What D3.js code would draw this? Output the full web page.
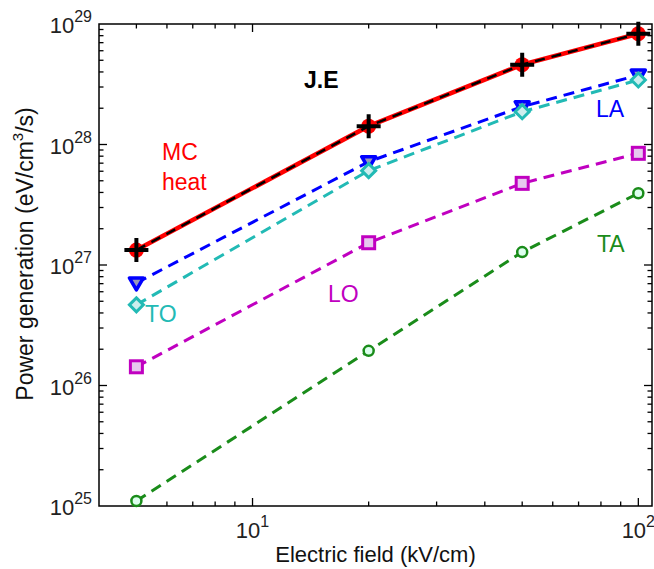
<!DOCTYPE html>
<html>
<head>
<meta charset="utf-8">
<script src="https://cdn.jsdelivr.net/npm/d3@7"></script>
<style>
  body { margin: 0; background: #fff; }
  text { font-family: "Liberation Sans", Arial, sans-serif; }
</style>
</head>
<body>
<div id="chart"></div>
<script>
// electric field values (kV/cm)
const fields = [5, 20, 50, 100];

// power generation (eV/cm^3/s) per channel
const mcHeat = [1.33e27, 1.42e28, 4.6e28, 8.3e28];
const jouleHeat = [1.33e27, 1.42e28, 4.6e28, 8.3e28];
const laPower = [7.1e26, 7.2e27, 2.06e28, 3.77e28];
const toPower = [4.67e26, 6.07e27, 1.87e28, 3.43e28];
const loPower = [1.43e26, 1.53e27, 4.76e27, 8.45e27];
const taPower = [1.1e25, 1.94e26, 1.28e27, 3.94e27];

// tick labels
const xTickExps = [1, 2];
const yTickExps = [25, 26, 27, 28, 29];

const W = 654, H = 569;
const margin = {left: 99, right: 2, top: 24, bottom: 63};

const svg = d3.select('#chart').append('svg')
    .attr('width', W)
    .attr('height', H);

const x = d3.scaleLog()
    .domain([4, 108.5])
    .range([margin.left, W - margin.right]);
const y = d3.scaleLog()
    .domain([1e25, 1e29])
    .range([H - margin.bottom, margin.top]);

const x0 = x.range()[0], x1 = x.range()[1];
const y0 = y.range()[0], y1 = y.range()[1];

// minor/major ticks
const xMinor = [5, 6, 7, 8, 9, 20, 30, 40, 50, 60, 70, 80, 90];
const xMajor = [10, 100];
const yMinor = [];
for (let e = 25; e < 29; e++) {
  for (let m = 2; m <= 9; m++) yMinor.push(m * Math.pow(10, e));
}
const yMajor = yTickExps.map(e => Math.pow(10, e));

const ticks = svg.append('g').attr('stroke', '#000').attr('stroke-width', 1.3);
function xTicks(vals, len) {
  vals.forEach(v => {
    ticks.append('line').attr('x1', x(v)).attr('x2', x(v)).attr('y1', y0).attr('y2', y0 - len);
    ticks.append('line').attr('x1', x(v)).attr('x2', x(v)).attr('y1', y1).attr('y2', y1 + len);
  });
}
function yTicks(vals, len) {
  vals.forEach(v => {
    ticks.append('line').attr('y1', y(v)).attr('y2', y(v)).attr('x1', x0).attr('x2', x0 + len);
    ticks.append('line').attr('y1', y(v)).attr('y2', y(v)).attr('x1', x1).attr('x2', x1 - len);
  });
}
xTicks(xMinor, 4.5);
xTicks(xMajor, 8);
yTicks(yMinor, 4.5);
yTicks(yMajor.slice(1, -1), 8);

// box
svg.append('rect')
    .attr('x', x0).attr('y', y1)
    .attr('width', x1 - x0).attr('height', y0 - y1)
    .attr('fill', 'none')
    .attr('stroke', '#000')
    .attr('stroke-width', 1.5);

// tick labels
function powLabel(g, e) {
  g.append('tspan').text('10');
  g.append('tspan').text(e).attr('font-size', 16).attr('dy', -11);
}
xTickExps.forEach(e => {
  const t = svg.append('text')
      .attr('x', x(Math.pow(10, e)))
      .attr('y', y0 + 32)
      .attr('text-anchor', 'middle')
      .attr('font-size', 22)
      .attr('fill', '#222');
  powLabel(t, e);
});
yTickExps.forEach(e => {
  const t = svg.append('text')
      .attr('x', x0 - 7)
      .attr('y', y(Math.pow(10, e)) + 9)
      .attr('text-anchor', 'end')
      .attr('font-size', 22)
      .attr('fill', '#222');
  powLabel(t, e);
});

// axis titles
svg.append('text')
    .attr('x', (x0 + x1) / 2)
    .attr('y', 562)
    .attr('text-anchor', 'middle')
    .attr('font-size', 22)
    .attr('fill', '#111')
    .text('Electric field (kV/cm)');

const yl = svg.append('text')
    .attr('transform', 'translate(33,' + 254 + ') rotate(-90)')
    .attr('text-anchor', 'middle')
    .attr('font-size', 23)
    .attr('fill', '#111');
yl.append('tspan').text('Power generation (eV/cm');
yl.append('tspan').text('3').attr('font-size', 15).attr('dy', -10);
yl.append('tspan').text('/s)').attr('dy', 10);

// series
const line = d3.line()
    .x((d, i) => x(fields[i]))
    .y(d => y(d));

function drawLine(vals, color, dash, w) {
  svg.append('path')
      .datum(vals)
      .attr('d', line)
      .attr('fill', 'none')
      .attr('stroke', color)
      .attr('stroke-width', w || 3)
      .attr('stroke-dasharray', dash);
}

const green = '#1a8c1a', magenta = '#c000c0', cyan = '#22bab5', blue = '#0000ff';

// TA
drawLine(taPower, green, '11,7');
svg.selectAll('.ta').data(taPower).enter().append('circle')
    .attr('cx', (d, i) => x(fields[i])).attr('cy', d => y(d))
    .attr('r', 5).attr('fill', '#dfe').attr('stroke', green).attr('stroke-width', 2.5);

// LO
drawLine(loPower, magenta, '11,7');
svg.selectAll('.lo').data(loPower).enter().append('rect')
    .attr('x', (d, i) => x(fields[i]) - 6).attr('y', d => y(d) - 6)
    .attr('width', 12).attr('height', 12)
    .attr('fill', '#e6c8ee').attr('stroke', magenta).attr('stroke-width', 3);

// LA
drawLine(laPower, blue, '11,7');
svg.selectAll('.la').data(laPower).enter().append('path')
    .attr('transform', (d, i) => 'translate(' + x(fields[i]) + ',' + y(d) + ')')
    .attr('d', 'M-7,-5L7,-5L0,7Z')
    .attr('fill', '#99b').attr('stroke', blue).attr('stroke-width', 3.5).attr('stroke-linejoin', 'round');

// TO
drawLine(toPower, cyan, '11,7');
svg.selectAll('.to').data(toPower).enter().append('path')
    .attr('transform', (d, i) => 'translate(' + x(fields[i]) + ',' + y(d) + ')')
    .attr('d', 'M0,-7L7,0L0,7L-7,0Z')
    .attr('fill', '#cee').attr('stroke', cyan).attr('stroke-width', 3);

// MC heat (red solid) with red circles
drawLine(mcHeat, '#ff0000', null, 4.5);
svg.selectAll('.mc').data(mcHeat).enter().append('circle')
    .attr('cx', (d, i) => x(fields[i])).attr('cy', d => y(d))
    .attr('r', 7.5).attr('fill', '#ff0000');

// J.E (black dashed) with crosses
drawLine(jouleHeat, '#000', '10,7', 2.5);
svg.selectAll('.je').data(jouleHeat).enter().append('path')
    .attr('transform', (d, i) => 'translate(' + x(fields[i]) + ',' + y(d) + ')')
    .attr('d', 'M-12,0L12,0M0,-12L0,12')
    .attr('stroke', '#000').attr('stroke-width', 4);

// annotations
const notes = [
  {t: 'J.E', x: 304, y: 88, c: '#000', b: true},
  {t: 'MC', x: 162, y: 160, c: '#ff0000'},
  {t: 'heat', x: 162, y: 190, c: '#ff0000'},
  {t: 'LA', x: 596, y: 117, c: blue},
  {t: 'TO', x: 145, y: 322, c: cyan},
  {t: 'LO', x: 328, y: 302, c: magenta},
  {t: 'TA', x: 597, y: 252, c: green}
];
notes.forEach(n => {
  svg.append('text')
      .attr('x', n.x).attr('y', n.y)
      .attr('font-size', 23)
      .attr('font-weight', n.b ? 'bold' : 'normal')
      .attr('fill', n.c)
      .text(n.t);
});
</script>
</body>
</html>
